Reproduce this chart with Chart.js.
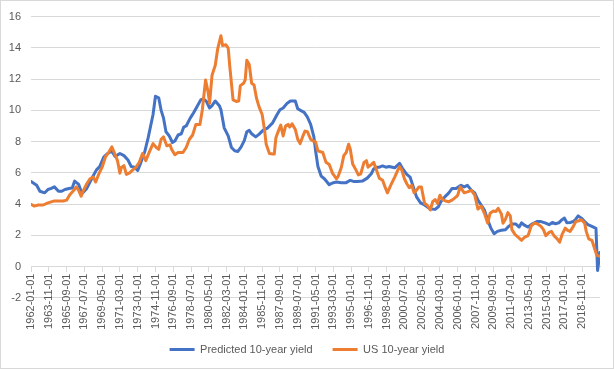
<!DOCTYPE html>
<html><head><meta charset="utf-8">
<script src="https://cdn.jsdelivr.net/npm/chart.js@4.4.1/dist/chart.umd.min.js"></script>
<style>html,body{margin:0;padding:0;background:#fff;}canvas{display:block;}</style>
</head><body>
<canvas id="c" width="614" height="370"></canvas>
<script>
// Category tick labels shown on the x axis (every 22 months)
const tickLabels = ["1962-01-01","1963-11-01","1965-09-01","1967-07-01","1969-05-01","1971-03-01","1973-01-01","1974-11-01","1976-09-01","1978-07-01","1980-05-01","1982-03-01","1984-01-01","1985-11-01","1987-09-01","1989-07-01","1991-05-01","1993-03-01","1995-01-01","1996-11-01","1998-09-01","2000-07-01","2002-05-01","2004-03-01","2006-01-01","2007-11-01","2009-09-01","2011-07-01","2013-05-01","2015-03-01","2017-01-01","2018-11-01"];
const lastMonth = 704; // months after 1962-01 of the final observation
const seriesNames = ["Predicted 10-year yield", "US 10-year yield"];

// Predicted 10-year yield: month offset from 1962-01, value (%)
const predMonth = [0,7,11,17,21,25,29,34,38,42,47,51,54,59,63,69,75,81,85,90,95,100,104,110,115,120,124,128,132,136,141,145,151,154,158,161,164,167,171,175,178,182,186,189,192,197,201,205,210,213,217,221,224,228,233,235,239,244,248,252,256,260,264,267,270,273,278,282,287,293,299,304,308,312,317,321,327,330,334,338,342,346,350,352,355,359,363,369,373,378,384,390,395,399,404,410,416,421,424,427,431,435,439,443,450,456,460,465,469,473,477,482,487,491,495,500,504,507,512,517,521,526,529,532,536,540,545,549,553,557,561,565,569,573,577,582,587,591,595,600,604,607,611,615,620,626,631,636,641,645,649,653,657,660,663,667,671,674,677,681,685,689,694,699,701,704];
const predYield = [5.45,5.2,4.82,4.72,4.93,5.0,5.1,4.82,4.82,4.93,5.0,5.03,5.47,5.26,4.67,5.0,5.62,6.19,6.4,7.0,7.24,7.4,7.05,7.24,7.1,6.82,6.4,6.36,6.15,6.67,7.4,8.25,9.73,10.9,10.8,10.0,9.5,8.63,8.36,7.94,8.04,8.42,8.5,8.93,9.0,9.5,9.83,10.2,10.67,10.74,10.57,10.15,10.3,10.6,10.3,10.04,8.88,8.36,7.62,7.41,7.37,7.66,8.08,8.63,8.72,8.5,8.3,8.46,8.72,8.88,9.2,9.68,10.04,10.15,10.46,10.6,10.6,10.1,9.98,9.87,9.56,9.1,8.3,7.45,6.4,5.79,5.62,5.24,5.35,5.41,5.37,5.37,5.52,5.45,5.45,5.47,5.66,5.94,6.25,6.36,6.36,6.44,6.36,6.4,6.32,6.61,6.25,5.9,5.73,5.1,4.46,4.08,3.94,3.79,3.68,3.66,3.83,4.15,4.46,4.72,5.0,5.0,5.1,5.2,5.1,5.2,4.88,4.72,4.25,3.94,3.62,2.99,2.46,2.1,2.25,2.32,2.36,2.57,2.72,2.72,2.53,2.8,2.63,2.53,2.72,2.88,2.88,2.8,2.68,2.82,2.74,2.8,3.0,3.1,2.8,2.82,2.88,3.03,3.24,3.1,2.88,2.68,2.57,2.45,-0.25,0.9];

// US 10-year yield: month offset from 1962-01, value (%)
const usMonth = [0,4,9,15,21,28,34,40,44,48,53,56,59,62,64,69,73,77,80,84,88,92,96,100,103,107,110,112,115,118,122,126,130,134,138,142,147,151,155,158,161,164,168,172,174,178,182,188,192,196,200,204,209,212,216,219,221,224,228,231,235,237,241,244,246,250,254,257,259,263,265,267,270,273,276,279,282,286,289,291,295,299,301,303,306,309,312,315,318,320,323,327,330,333,336,339,342,346,349,352,355,361,365,369,373,378,380,384,387,390,393,395,398,402,405,408,412,415,417,421,424,427,431,435,438,441,445,450,454,456,459,462,465,468,471,474,477,480,483,487,490,494,497,500,503,506,509,513,517,521,526,528,531,536,540,545,549,553,557,561,565,568,572,575,578,582,584,587,590,593,595,599,603,607,611,615,619,623,627,631,634,637,641,644,647,651,654,657,661,664,667,671,674,678,681,685,687,690,694,697,700,704];
const usYield = [3.98,3.87,3.94,3.94,4.08,4.19,4.19,4.2,4.25,4.6,4.88,5.1,4.88,4.5,4.78,5.3,5.62,5.73,5.41,5.94,6.36,7.0,7.3,7.66,7.3,6.78,5.98,6.36,6.46,5.9,6.0,6.19,6.36,6.67,7.24,6.78,7.4,7.87,7.62,7.5,8.15,8.3,7.73,7.79,7.5,7.16,7.3,7.3,7.62,8.15,8.42,9.1,9.1,10.04,11.94,11.2,10.46,12.25,12.88,13.94,14.78,14.15,14.2,13.98,12.78,10.67,10.57,10.6,11.58,11.73,11.94,13.2,12.93,11.73,11.62,10.78,10.25,9.73,8.72,7.83,7.24,7.2,7.2,8.25,8.67,9.05,8.36,9.0,9.1,8.93,9.14,8.78,8.15,7.87,8.3,8.67,8.63,8.15,8.04,8.0,7.41,7.3,6.67,6.53,5.98,5.62,5.77,6.36,7.1,7.3,7.83,7.52,6.57,6.19,5.87,5.94,6.67,6.78,6.36,6.53,6.67,6.25,5.66,5.52,5.1,4.72,5.2,5.73,6.19,6.4,6.15,5.62,5.3,5.05,5.2,4.72,4.88,5.1,5.1,4.04,3.94,3.62,4.15,4.29,4.04,4.57,4.29,4.2,4.15,4.25,4.46,4.57,5.1,4.72,4.78,4.88,4.57,3.68,3.87,3.41,2.78,3.41,3.56,3.52,3.73,3.37,2.78,3.03,3.45,3.24,2.36,2.04,1.87,1.68,1.89,1.98,2.61,2.78,2.72,2.57,2.36,1.98,2.19,2.25,1.98,1.77,1.56,2.04,2.46,2.32,2.25,2.57,2.88,2.93,3.0,2.78,2.25,1.77,1.68,1.2,0.72,0.65];

const yMin = -2, yMax = 16, yStep = 2;

const monthIndex = s => (parseInt(s.slice(0, 4), 10) - 1962) * 12 + parseInt(s.slice(5, 7), 10) - 1;
const toPoints = (xs, ys) => xs.map((m, i) => ({x: m, y: ys[i]}));

const FONT = "'Liberation Sans', Arial, sans-serif";
Chart.defaults.font.family = FONT;
Chart.defaults.font.size = 11;
Chart.defaults.color = '#595959';

const GRID = '#d9d9d9';

const bgPlugin = {
  id: 'bg',
  beforeDraw(chart) {
    const ctx = chart.ctx;
    ctx.save();
    ctx.fillStyle = '#fff';
    ctx.fillRect(0, 0, chart.width, chart.height);
    ctx.strokeStyle = GRID;
    ctx.lineWidth = 1;
    ctx.strokeRect(0.5, 0.5, 613, 368);
    ctx.restore();
  }
};

new Chart(document.getElementById('c'), {
  type: 'line',
  data: {
    datasets: [
      { label: seriesNames[0], data: toPoints(predMonth, predYield), borderColor: '#4472C4', backgroundColor: '#4472C4', order: 1 },
      { label: seriesNames[1], data: toPoints(usMonth, usYield), borderColor: '#ED7D31', backgroundColor: '#ED7D31', order: 0 }
    ]
  },
  options: {
    responsive: false,
    animation: false,
    devicePixelRatio: 1,
    parsing: false,
    elements: {
      line: { borderWidth: 3, tension: 0, borderJoinStyle: 'round', borderCapStyle: 'round' },
      point: { radius: 0, hoverRadius: 0 }
    },
    layout: { padding: { top: 14, right: 0, bottom: 5, left: 0 } },
    scales: {
      x: {
        type: 'linear',
        position: { y: 0 },
        min: 0,
        max: lastMonth,
        afterBuildTicks: axis => { axis.ticks = tickLabels.map(l => ({ value: monthIndex(l) })); },
        ticks: {
          autoSkip: false,
          maxRotation: 90,
          minRotation: 90,
          padding: 2,
          color: '#595959',
          font: { size: 11 },
          callback: (v, i) => tickLabels[i]
        },
        grid: { display: true, drawOnChartArea: false, drawTicks: true, tickLength: 5, color: GRID, lineWidth: 1 },
        border: { display: true, color: GRID, width: 1 }
      },
      y: {
        type: 'linear',
        position: 'left',
        min: yMin,
        max: yMax,
        ticks: { stepSize: yStep, padding: 10, color: '#595959', font: { size: 11 } },
        grid: { color: GRID, lineWidth: 1, drawTicks: false },
        border: { display: false },
        afterFit: s => { s.width = 31; }
      },
      yr: {
        type: 'linear',
        position: 'right',
        display: true,
        ticks: { display: false },
        grid: { display: false },
        border: { display: false },
        afterFit: s => { s.width = 14; }
      }
    },
    plugins: {
      tooltip: { enabled: false },
      legend: {
        position: 'bottom',
        title: { display: true, text: ' ', padding: { top: 13, bottom: 0 }, font: { size: 11 } },
        sort: (a, b) => a.datasetIndex - b.datasetIndex,
        labels: {
          boxWidth: 25,
          boxHeight: 3,
          padding: 20,
          color: '#595959',
          font: { size: 11 },
          generateLabels: chart => chart.data.datasets.map((d, i) => ({
            text: d.label, fillStyle: d.borderColor, strokeStyle: d.borderColor,
            lineWidth: 0, hidden: false, datasetIndex: i, fontColor: '#595959'
          }))
        }
      }
    }
  },
  plugins: [bgPlugin]
});
</script>
</body></html>
